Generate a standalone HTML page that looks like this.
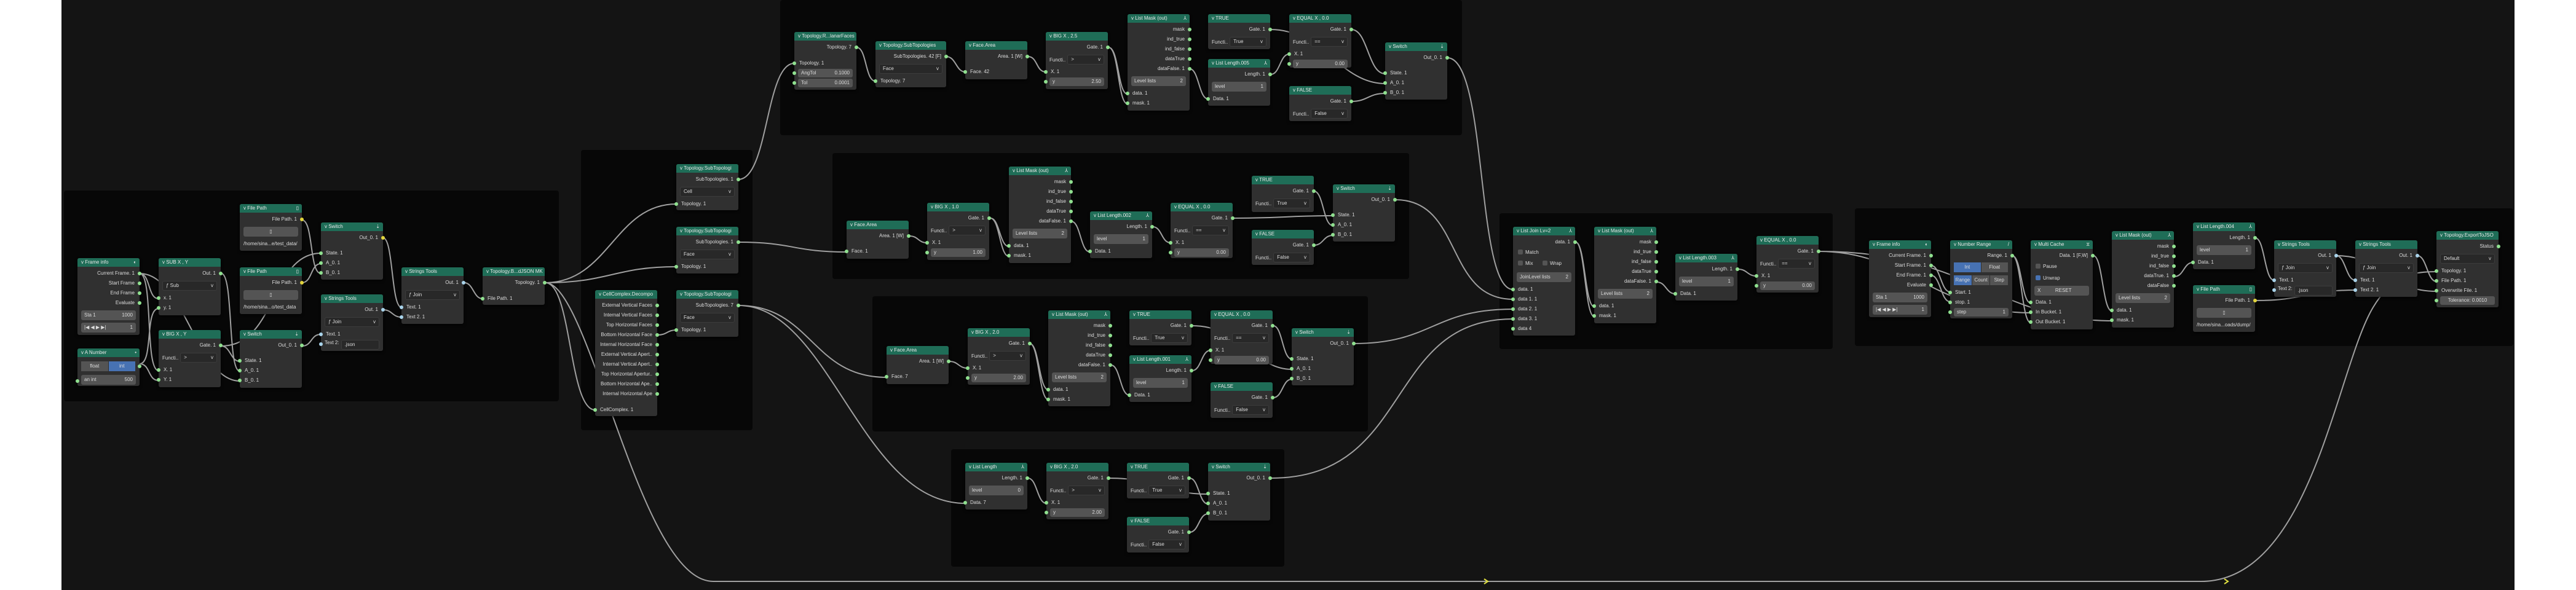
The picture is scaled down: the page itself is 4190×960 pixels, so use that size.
<!DOCTYPE html><html><head><meta charset="utf-8"><style>
body{margin:0;width:4190px;height:960px;background:#fff;position:relative;overflow:hidden;font-family:"Liberation Sans",sans-serif}
#bg{position:absolute;left:100px;top:0;width:3990px;height:960px;background:#141414}
.fr{position:absolute;background:#070707;border-radius:4px}
svg{position:absolute;left:0;top:0;z-index:1}
.n{position:absolute;width:101px;background:#303030;border-radius:3px;box-shadow:0 2px 4px rgba(0,0,0,.7);font-size:8px;color:#dcdcdc;z-index:2}
.h{height:14px;line-height:14px;background:#1f6d57;border-radius:3px 3px 0 0;padding-left:6px;white-space:nowrap;overflow:hidden;position:relative;margin-bottom:3px;color:#e8e8e8}
.h b{position:absolute;right:5px;top:0;font-weight:normal}
.r{position:relative;height:16px;line-height:16px;padding:0 8px;white-space:nowrap;overflow:visible}
.o{text-align:right}
i{position:absolute;width:6px;height:6px;border-radius:50%;background:#8fe08f;top:5px;left:-3px}
.o i{left:auto;right:-3px}
i.y{background:#e2d53c}i.b{background:#a9d3ea}
.w{position:relative;height:24px;padding:4px 6px;box-sizing:border-box;display:flex;align-items:center;gap:3px;white-space:nowrap}
.w i{top:9px}
.q{position:relative;height:16px;padding:1px 6px;box-sizing:border-box}
.f{flex:1;height:16px;line-height:16px;background:#545454;border-radius:3px;padding:0 5px;display:flex;justify-content:space-between;white-space:nowrap;overflow:hidden}
.q .f{height:14px;line-height:14px}
.f.d{background:#282828;border:1px solid #3c3c3c;height:14px;line-height:14px}
.f s{text-decoration:none}
.sp{height:9px}
.t{flex:1;display:flex;height:16px;line-height:16px}
.t em{flex:1;font-style:normal;text-align:center;background:#545454;margin-right:1px}
.t em.on{background:#4772b3}
u{display:inline-block;width:8px;height:8px;background:#545454;border-radius:2px;margin-right:4px;vertical-align:-1px;text-decoration:none}
u.c{background:#4772b3}
.tx{padding:0 6px;line-height:16px;white-space:nowrap;overflow:hidden}
</style></head><body>
<div id="bg"></div>
<div class="fr" style="left:104px;top:310px;width:805px;height:343px"></div>
<div class="fr" style="left:945px;top:244px;width:279px;height:456px"></div>
<div class="fr" style="left:1269px;top:0;width:1109px;height:220px"></div>
<div class="fr" style="left:1354px;top:249px;width:938px;height:205px"></div>
<div class="fr" style="left:1419px;top:482px;width:806px;height:220px"></div>
<div class="fr" style="left:1547px;top:731px;width:542px;height:191px"></div>
<div class="fr" style="left:2439px;top:347px;width:542px;height:221px"></div>
<div class="fr" style="left:3017px;top:339px;width:1071px;height:224px"></div>
<svg width="4190" height="960" fill="none" stroke="#a0a0a0" stroke-width="2">
<path d="M227 445C245 445 240 486 258 486M227 445C250 445 235 603 258 603M227 592C250 592 235 502 258 502M227 592C245 592 240 619 258 619M360 445C380 445 370 604 390 604M360 563C375 563 375 588 390 588M227 445C300 445 320 620 390 620M491 358C510 358 503 445 522 445M491 460C508 460 505 429 522 429M360 563C450 563 440 412 522 412M491 563C508 563 505 544 522 544M623 387C640 387 636 500 653 500M623 504C638 504 638 516 653 516M755 460C770 460 770 486 785 486M887 460C990 460 1000 332 1100 332M887 460C990 460 1000 434 1100 434M887 460C930 460 925 667 968 667M887 460C960 460 1040 946 1160 946L3580 946C3760 946 3800 600 3860 500C3890 450 3920 442 3963 442M1070 545C1085 545 1085 537 1100 537M1201 292C1250 292 1245 103 1292 103M1201 394C1290 394 1290 410 1377 410M1201 497C1320 497 1320 614 1442 614M1201 497C1350 497 1400 819 1570 819"/>
<path d="M1393 77C1410 77 1407 132 1424 132M1539 92C1555 92 1555 117 1570 117M1672 92C1688 92 1685 117 1701 117M1803 77C1820 77 1818 153 1834 153M1803 77C1820 77 1818 169 1834 169M1935 112C1950 112 1950 161 1965 161M2067 121C2082 121 2082 88 2097 88M2067 48C2150 48 2180 136 2253 136M2198 48C2225 48 2225 120 2253 120M2198 165C2225 165 2225 152 2253 152M2354 94C2420 94 2400 471 2461 471"/>
<path d="M1479 384C1494 384 1493 395 1508 395M1611 355C1626 355 1626 401 1641 401M1611 355C1626 355 1626 417 1641 417M1742 360C1758 360 1757 410 1773 410M1875 369C1890 369 1889 395 1904 395M2006 355C2090 355 2090 351 2168 351M2137 311C2153 311 2152 367 2168 367M2137 399C2153 399 2152 383 2168 383M2270 325C2380 325 2350 487 2461 487"/>
<path d="M1544 588C1559 588 1559 599 1574 599M1675 559C1690 559 1690 634 1705 634M1675 559C1690 559 1690 650 1705 650M1807 594C1822 594 1822 643 1837 643M1939 603C1954 603 1954 570 1969 570M1939 530C2020 530 2040 601 2101 601M2071 530C2086 530 2086 584 2101 584M2071 647C2086 647 2086 617 2101 617M2202 559C2330 559 2330 503 2461 503"/>
<path d="M1672 778C1687 778 1687 819 1702 819M1803 778C1890 778 1890 804 1965 804M1935 778C1950 778 1950 820 1965 820M1935 866C1950 866 1950 836 1965 836M2067 778C2300 778 2250 519 2461 519"/>
<path d="M2563 394C2578 394 2578 499 2593 499M2563 394C2578 394 2578 515 2593 515M2695 459C2710 459 2710 478 2725 478M2827 438C2842 438 2842 449 2857 449M2959 409C3200 409 3250 522 3435 522M2959 409C3100 409 3150 509 3303 509"/>
<path d="M3141 432C3156 432 3157 475 3172 475M3141 448C3156 448 3157 491 3172 491M3273 416C3288 416 3288 493 3303 493M3273 416C3288 416 3288 525 3303 525M3405 416C3420 416 3420 506 3435 506M3537 450C3552 450 3552 427 3567 427M3668 387C3684 387 3683 456 3699 456M3668 489C3750 489 3750 472 3831 472M3800 416C3815 416 3816 456 3831 456M3932 416C3947 416 3948 458 3963 458M3800 416C3880 416 3880 474 3963 474"/>
<path d="M2414 942L2420 946L2414 950M3618 942L3624 946L3618 950" stroke="#e0e040"/>
</svg>

<!-- Frame A -->
<div class="n" style="left:126px;top:420px;height:125px"><div class="h">v Frame info<b>◐</b></div><div class="r o">Current Frame. 1<i></i></div><div class="r o">Start Frame<i></i></div><div class="r o">End Frame<i></i></div><div class="r o">Evaluate<i></i></div><div class="w"><div class="f"><span>Sta 1</span><span>1000</span></div></div><div class="w" style="height:20px;padding-top:0"><div class="f">|◀ ◀ ▶ ▶| <span>1</span></div></div></div>
<div class="n" style="left:126px;top:567px;height:61px"><div class="h">v A Number<b>•</b></div><div class="w"><div class="t"><em>float</em><em class="on">int</em></div><i style="left:auto;right:-3px"></i></div><div class="w" style="height:20px"><i></i><div class="f"><span>an int</span><span>500</span></div></div></div>
<div class="n" style="left:258px;top:420px;height:93px"><div class="h">v SUB X , Y</div><div class="r o">Out. 1<i></i></div><div class="w"><div class="f d">ƒ Sub<s>v</s></div></div><div class="r">x. 1<i></i></div><div class="r">y. 1<i></i></div></div>
<div class="n" style="left:258px;top:537px;height:93px"><div class="h">v BIG X , Y</div><div class="r o">Gate. 1<i></i></div><div class="w"><span>Functi..</span><div class="f d">&gt;<s>v</s></div></div><div class="r">X. 1<i></i></div><div class="r">Y. 1<i></i></div></div>
<div class="n" style="left:390px;top:332px;height:76px"><div class="h">v File Path<b>▯</b></div><div class="r o">File Path. 1<i class="y"></i></div><div class="w"><div class="f" style="justify-content:center">▯</div></div><div class="tx">/home/sina...e/test_data/</div></div>
<div class="n" style="left:390px;top:435px;height:76px"><div class="h">v File Path<b>▯</b></div><div class="r o">File Path. 1<i class="y"></i></div><div class="w"><div class="f" style="justify-content:center">▯</div></div><div class="tx">/home/sina...o/test_data</div></div>
<div class="n" style="left:522px;top:362px;height:93px"><div class="h">v Switch<b>⇣</b></div><div class="r o">Out_0. 1<i class="y"></i></div><div class="sp"></div><div class="r">State. 1<i></i></div><div class="r">A_0. 1<i></i></div><div class="r">B_0. 1<i></i></div></div>
<div class="n" style="left:390px;top:537px;height:94px"><div class="h">v Switch<b>⇣</b></div><div class="r o">Out_0. 1<i></i></div><div class="sp"></div><div class="r">State. 1<i></i></div><div class="r">A_0. 1<i></i></div><div class="r">B_0. 1<i></i></div></div>
<div class="n" style="left:522px;top:479px;height:92px"><div class="h">v Strings Tools</div><div class="r o">Out. 1<i class="b"></i></div><div class="w"><div class="f d">ƒ Join<s>v</s></div></div><div class="r">Text. 1<i class="b"></i></div><div class="q" style="display:flex;gap:3px"><i class="b"></i>Text 2:<div class="f d">.json</div></div></div>
<div class="n" style="left:653px;top:435px;height:92px"><div class="h">v Strings Tools</div><div class="r o">Out. 1<i class="b"></i></div><div class="w"><div class="f d">ƒ Join<s>v</s></div></div><div class="r">Text. 1<i class="b"></i></div><div class="r">Text 2. 1<i class="b"></i></div></div>
<div class="n" style="left:785px;top:435px;height:61px"><div class="h">v Topology.B...dJSON MK</div><div class="r o">Topology. 1<i></i></div><div class="sp" style="height:10px"></div><div class="r">File Path. 1<i></i></div></div>

<!-- Frame B -->
<div class="n" style="left:1100px;top:267px;height:75px"><div class="h">v Topology.SubTopologi</div><div class="r o">SubTopologies. 1<i></i></div><div class="w"><div class="f d">Cell<s>v</s></div></div><div class="r">Topology. 1<i></i></div></div>
<div class="n" style="left:1100px;top:369px;height:76px"><div class="h">v Topology.SubTopologi</div><div class="r o">SubTopologies. 1<i></i></div><div class="w"><div class="f d">Face<s>v</s></div></div><div class="r">Topology. 1<i></i></div></div>
<div class="n" style="left:1100px;top:472px;height:76px"><div class="h">v Topology.SubTopologi</div><div class="r o">SubTopologies. 7<i></i></div><div class="w"><div class="f d">Face<s>v</s></div></div><div class="r">Topology. 1<i></i></div></div>
<div class="n" style="left:968px;top:472px;height:205px"><div class="h">v CellComplex.Decompo</div><div class="r o">External Vertical Faces<i></i></div><div class="r o">Internal Vertical Faces<i></i></div><div class="r o">Top Horizontal Faces<i></i></div><div class="r o">Bottom Horizontal Face<i></i></div><div class="r o">Internal Horizontal Face<i></i></div><div class="r o">External Vertical Apert..<i></i></div><div class="r o">Internal Vertical Apert..<i></i></div><div class="r o">Top Horizontal Apertur..<i></i></div><div class="r o">Bottom Horizontal Ape..<i></i></div><div class="r o">Internal Horizontal Ape<i></i></div><div class="sp" style="height:10px"></div><div class="r">CellComplex. 1<i></i></div></div>

<!-- Top frame -->
<div class="n" style="left:1292px;top:52px;height:94px"><div class="h">v Topology.R...lanarFaces</div><div class="r o">Topology. 7<i></i></div><div class="sp" style="height:10px"></div><div class="r">Topology. 1<i></i></div><div class="q"><i></i><div class="f"><span>AngTol</span><span>0.1000</span></div></div><div class="q"><i></i><div class="f"><span>Tol</span><span>0.0001</span></div></div></div>
<div class="n" style="left:1424px;top:67px;width:115px;height:75px"><div class="h">v Topology.SubTopologies</div><div class="r o">SubTopologies. 42 [F]<i></i></div><div class="w"><div class="f d">Face<s>v</s></div></div><div class="r">Topology. 7<i></i></div></div>
<div class="n" style="left:1570px;top:67px;height:62px"><div class="h">v Face.Area</div><div class="r o">Area. 1 [W]<i></i></div><div class="sp"></div><div class="r">Face. 42<i></i></div></div>
<div class="n" style="left:1701px;top:52px;height:93px"><div class="h">v BIG X , 2.5</div><div class="r o">Gate. 1<i></i></div><div class="w"><span>Functi..</span><div class="f d">&gt;<s>v</s></div></div><div class="r">X. 1<i></i></div><div class="q"><i></i><div class="f"><span>y</span><span>2.50</span></div></div></div>
<div class="n" style="left:1834px;top:23px;height:157px"><div class="h">v List Mask (out)<b>⅄</b></div><div class="r o">mask<i></i></div><div class="r o">ind_true<i></i></div><div class="r o">ind_false<i></i></div><div class="r o">dataTrue<i></i></div><div class="r o">dataFalse. 1<i></i></div><div class="w"><div class="f"><span>Level lists</span><span>2</span></div></div><div class="r">data. 1<i></i></div><div class="r">mask. 1<i></i></div></div>
<div class="n" style="left:1965px;top:23px;height:57px"><div class="h">v TRUE</div><div class="r o">Gate. 1<i></i></div><div class="w"><span>Functi..</span><div class="f d">True<s>v</s></div></div></div>
<div class="n" style="left:1965px;top:96px;height:76px"><div class="h">v List Length.005<b>⅄</b></div><div class="r o">Length. 1<i></i></div><div class="w"><div class="f"><span>level</span><span>1</span></div></div><div class="r">Data. 1<i></i></div></div>
<div class="n" style="left:2097px;top:23px;height:87px"><div class="h">v EQUAL X , 0.0</div><div class="r o">Gate. 1<i></i></div><div class="w"><span>Functi..</span><div class="f d">==<s>v</s></div></div><div class="r">X. 1<i></i></div><div class="q"><i></i><div class="f"><span>y</span><span>0.00</span></div></div></div>
<div class="n" style="left:2097px;top:140px;height:57px"><div class="h">v FALSE</div><div class="r o">Gate. 1<i></i></div><div class="w"><span>Functi..</span><div class="f d">False<s>v</s></div></div></div>
<div class="n" style="left:2253px;top:69px;height:93px"><div class="h">v Switch<b>⇣</b></div><div class="r o">Out_0. 1<i></i></div><div class="sp"></div><div class="r">State. 1<i></i></div><div class="r">A_0. 1<i></i></div><div class="r">B_0. 1<i></i></div></div>

<!-- Frame C -->
<div class="n" style="left:1377px;top:359px;height:62px"><div class="h">v Face.Area</div><div class="r o">Area. 1 [W]<i></i></div><div class="sp"></div><div class="r">Face. 1<i></i></div></div>
<div class="n" style="left:1508px;top:330px;height:93px"><div class="h">v BIG X , 1.0</div><div class="r o">Gate. 1<i></i></div><div class="w"><span>Functi..</span><div class="f d">&gt;<s>v</s></div></div><div class="r">X. 1<i></i></div><div class="q"><i></i><div class="f"><span>y</span><span>1.00</span></div></div></div>
<div class="n" style="left:1641px;top:271px;height:157px"><div class="h">v List Mask (out)<b>⅄</b></div><div class="r o">mask<i></i></div><div class="r o">ind_true<i></i></div><div class="r o">ind_false<i></i></div><div class="r o">dataTrue<i></i></div><div class="r o">dataFalse. 1<i></i></div><div class="w"><div class="f"><span>Level lists</span><span>2</span></div></div><div class="r">data. 1<i></i></div><div class="r">mask. 1<i></i></div></div>
<div class="n" style="left:1773px;top:344px;height:76px"><div class="h">v List Length.002<b>⅄</b></div><div class="r o">Length. 1<i></i></div><div class="w"><div class="f"><span>level</span><span>1</span></div></div><div class="r">Data. 1<i></i></div></div>
<div class="n" style="left:1904px;top:330px;height:90px"><div class="h">v EQUAL X , 0.0</div><div class="r o">Gate. 1<i></i></div><div class="w"><span>Functi..</span><div class="f d">==<s>v</s></div></div><div class="r">X. 1<i></i></div><div class="q"><i></i><div class="f"><span>y</span><span>0.00</span></div></div></div>
<div class="n" style="left:2036px;top:286px;height:59px"><div class="h">v TRUE</div><div class="r o">Gate. 1<i></i></div><div class="w"><span>Functi..</span><div class="f d">True<s>v</s></div></div></div>
<div class="n" style="left:2036px;top:374px;height:57px"><div class="h">v FALSE</div><div class="r o">Gate. 1<i></i></div><div class="w"><span>Functi..</span><div class="f d">False<s>v</s></div></div></div>
<div class="n" style="left:2168px;top:300px;height:93px"><div class="h">v Switch<b>⇣</b></div><div class="r o">Out_0. 1<i></i></div><div class="sp"></div><div class="r">State. 1<i></i></div><div class="r">A_0. 1<i></i></div><div class="r">B_0. 1<i></i></div></div>

<!-- Frame D -->
<div class="n" style="left:1442px;top:563px;height:62px"><div class="h">v Face.Area</div><div class="r o">Area. 1 [W]<i></i></div><div class="sp"></div><div class="r">Face. 7<i></i></div></div>
<div class="n" style="left:1574px;top:534px;height:92px"><div class="h">v BIG X , 2.0</div><div class="r o">Gate. 1<i></i></div><div class="w"><span>Functi..</span><div class="f d">&gt;<s>v</s></div></div><div class="r">X. 1<i></i></div><div class="q"><i></i><div class="f"><span>y</span><span>2.00</span></div></div></div>
<div class="n" style="left:1705px;top:505px;height:156px"><div class="h">v List Mask (out)<b>⅄</b></div><div class="r o">mask<i></i></div><div class="r o">ind_true<i></i></div><div class="r o">ind_false<i></i></div><div class="r o">dataTrue<i></i></div><div class="r o">dataFalse. 1<i></i></div><div class="w"><div class="f"><span>Level lists</span><span>2</span></div></div><div class="r">data. 1<i></i></div><div class="r">mask. 1<i></i></div></div>
<div class="n" style="left:1837px;top:505px;height:57px"><div class="h">v TRUE</div><div class="r o">Gate. 1<i></i></div><div class="w"><span>Functi..</span><div class="f d">True<s>v</s></div></div></div>
<div class="n" style="left:1837px;top:578px;height:76px"><div class="h">v List Length.001<b>⅄</b></div><div class="r o">Length. 1<i></i></div><div class="w"><div class="f"><span>level</span><span>1</span></div></div><div class="r">Data. 1<i></i></div></div>
<div class="n" style="left:1969px;top:505px;height:87px"><div class="h">v EQUAL X , 0.0</div><div class="r o">Gate. 1<i></i></div><div class="w"><span>Functi..</span><div class="f d">==<s>v</s></div></div><div class="r">X. 1<i></i></div><div class="q"><i></i><div class="f"><span>y</span><span>0.00</span></div></div></div>
<div class="n" style="left:1969px;top:622px;height:58px"><div class="h">v FALSE</div><div class="r o">Gate. 1<i></i></div><div class="w"><span>Functi..</span><div class="f d">False<s>v</s></div></div></div>
<div class="n" style="left:2101px;top:534px;height:93px"><div class="h">v Switch<b>⇣</b></div><div class="r o">Out_0. 1<i></i></div><div class="sp"></div><div class="r">State. 1<i></i></div><div class="r">A_0. 1<i></i></div><div class="r">B_0. 1<i></i></div></div>

<!-- Frame E -->
<div class="n" style="left:1570px;top:753px;height:76px"><div class="h">v List Length<b>⅄</b></div><div class="r o">Length. 1<i></i></div><div class="w"><div class="f"><span>level</span><span>0</span></div></div><div class="r">Data. 7<i></i></div></div>
<div class="n" style="left:1702px;top:753px;height:92px"><div class="h">v BIG X , 2.0</div><div class="r o">Gate. 1<i></i></div><div class="w"><span>Functi..</span><div class="f d">&gt;<s>v</s></div></div><div class="r">X. 1<i></i></div><div class="q"><i></i><div class="f"><span>y</span><span>2.00</span></div></div></div>
<div class="n" style="left:1833px;top:753px;height:58px"><div class="h">v TRUE</div><div class="r o">Gate. 1<i></i></div><div class="w"><span>Functi..</span><div class="f d">True<s>v</s></div></div></div>
<div class="n" style="left:1833px;top:841px;height:58px"><div class="h">v FALSE</div><div class="r o">Gate. 1<i></i></div><div class="w"><span>Functi..</span><div class="f d">False<s>v</s></div></div></div>
<div class="n" style="left:1965px;top:753px;height:94px"><div class="h">v Switch<b>⇣</b></div><div class="r o">Out_0. 1<i></i></div><div class="sp"></div><div class="r">State. 1<i></i></div><div class="r">A_0. 1<i></i></div><div class="r">B_0. 1<i></i></div></div>

<!-- Frame F -->
<div class="n" style="left:2461px;top:369px;height:177px"><div class="h">v List Join Lv=2<b>⅄</b></div><div class="r o">data. 1<i></i></div><div class="r" style="height:18px;line-height:18px"><u></u>Match</div><div class="r" style="height:18px;line-height:18px"><u></u>Mix &nbsp; &nbsp; &nbsp; <u></u>Wrap</div><div class="w" style="height:25px"><div class="f"><span>JoinLevel lists</span><span>2</span></div></div><div class="r">data. 1<i></i></div><div class="r">data 1. 1<i></i></div><div class="r">data 2. 1<i></i></div><div class="r">data 3. 1<i></i></div><div class="r">data 4<i></i></div></div>
<div class="n" style="left:2593px;top:369px;height:157px"><div class="h">v List Mask (out)<b>⅄</b></div><div class="r o">mask<i></i></div><div class="r o">ind_true<i></i></div><div class="r o">ind_false<i></i></div><div class="r o">dataTrue<i></i></div><div class="r o">dataFalse. 1<i></i></div><div class="w"><div class="f"><span>Level lists</span><span>2</span></div></div><div class="r">data. 1<i></i></div><div class="r">mask. 1<i></i></div></div>
<div class="n" style="left:2725px;top:413px;height:76px"><div class="h">v List Length.003<b>⅄</b></div><div class="r o">Length. 1<i></i></div><div class="w"><div class="f"><span>level</span><span>1</span></div></div><div class="r">Data. 1<i></i></div></div>
<div class="n" style="left:2857px;top:384px;height:92px"><div class="h">v EQUAL X , 0.0</div><div class="r o">Gate. 1<i></i></div><div class="w"><span>Functi..</span><div class="f d">==<s>v</s></div></div><div class="r">X. 1<i></i></div><div class="q"><i></i><div class="f"><span>y</span><span>0.00</span></div></div></div>

<!-- Frame G -->
<div class="n" style="left:3040px;top:391px;height:125px"><div class="h">v Frame info<b>◐</b></div><div class="r o">Current Frame. 1<i></i></div><div class="r o">Start Frame. 1<i></i></div><div class="r o">End Frame. 1<i></i></div><div class="r o">Evaluate<i></i></div><div class="w"><div class="f"><span>Sta 1</span><span>1000</span></div></div><div class="w" style="height:20px;padding-top:0"><div class="f">|◀ ◀ ▶ ▶| <span>1</span></div></div></div>
<div class="n" style="left:3172px;top:391px;height:127px"><div class="h">v Number Range<b>/</b></div><div class="r o">Range. 1<i></i></div><div class="w" style="height:22px"><div class="t"><em class="on">Int</em><em>Float</em></div></div><div class="w" style="height:22px;padding-top:2px"><div class="t"><em class="on">Range</em><em>Count</em><em>Step</em></div></div><div class="r">Start. 1<i></i></div><div class="r">stop. 1<i></i></div><div class="q"><i></i><div class="f"><span>step</span><span>1</span></div></div></div>
<div class="n" style="left:3303px;top:391px;height:145px"><div class="h">v Multi Cache<b>⧖</b></div><div class="r o">Data. 1 [F,W]<i></i></div><div class="r" style="height:20px;line-height:20px"><u></u>Pause</div><div class="r" style="height:18px;line-height:18px"><u class="c"></u>Unwrap</div><div class="w" style="height:22px"><div class="f"><span>X</span><span>RESET</span><span></span></div></div><div class="r">Data. 1<i></i></div><div class="r">In Bucket. 1<i></i></div><div class="r">Out Bucket. 1<i></i></div></div>
<div class="n" style="left:3435px;top:376px;height:157px"><div class="h">v List Mask (out)<b>⅄</b></div><div class="r o">mask<i></i></div><div class="r o">ind_true<i></i></div><div class="r o">ind_false<i></i></div><div class="r o">dataTrue. 1<i></i></div><div class="r o">dataFalse<i></i></div><div class="w"><div class="f"><span>Level lists</span><span>2</span></div></div><div class="r">data. 1<i></i></div><div class="r">mask. 1<i></i></div></div>
<div class="n" style="left:3567px;top:362px;height:76px"><div class="h">v List Length.004<b>⅄</b></div><div class="r o">Length. 1<i></i></div><div class="w"><div class="f"><span>level</span><span>1</span></div></div><div class="r">Data. 1<i></i></div></div>
<div class="n" style="left:3567px;top:464px;height:76px"><div class="h">v File Path<b>▯</b></div><div class="r o">File Path. 1<i class="y"></i></div><div class="w"><div class="f" style="justify-content:center">▯</div></div><div class="tx">/home/sina...oads/dump/</div></div>
<div class="n" style="left:3699px;top:391px;height:92px"><div class="h">v Strings Tools</div><div class="r o">Out. 1<i class="b"></i></div><div class="w"><div class="f d">ƒ Join<s>v</s></div></div><div class="r">Text. 1<i class="b"></i></div><div class="q" style="display:flex;gap:3px"><i class="b"></i>Text 2:<div class="f d">.json</div></div></div>
<div class="n" style="left:3831px;top:391px;height:92px"><div class="h">v Strings Tools</div><div class="r o">Out. 1<i class="b"></i></div><div class="w"><div class="f d">ƒ Join<s>v</s></div></div><div class="r">Text. 1<i class="b"></i></div><div class="r">Text 2. 1<i class="b"></i></div></div>
<div class="n" style="left:3963px;top:376px;height:124px"><div class="h">v Topology.ExportToJSO</div><div class="r o">Status<i></i></div><div class="w"><div class="f d">Default<s>v</s></div></div><div class="r">Topology. 1<i></i></div><div class="r">File Path. 1<i></i></div><div class="r">Overwrite File. 1<i></i></div><div class="q"><i></i><div class="f" style="justify-content:center">Tolerance: 0.0010</div></div></div>
</body></html>
